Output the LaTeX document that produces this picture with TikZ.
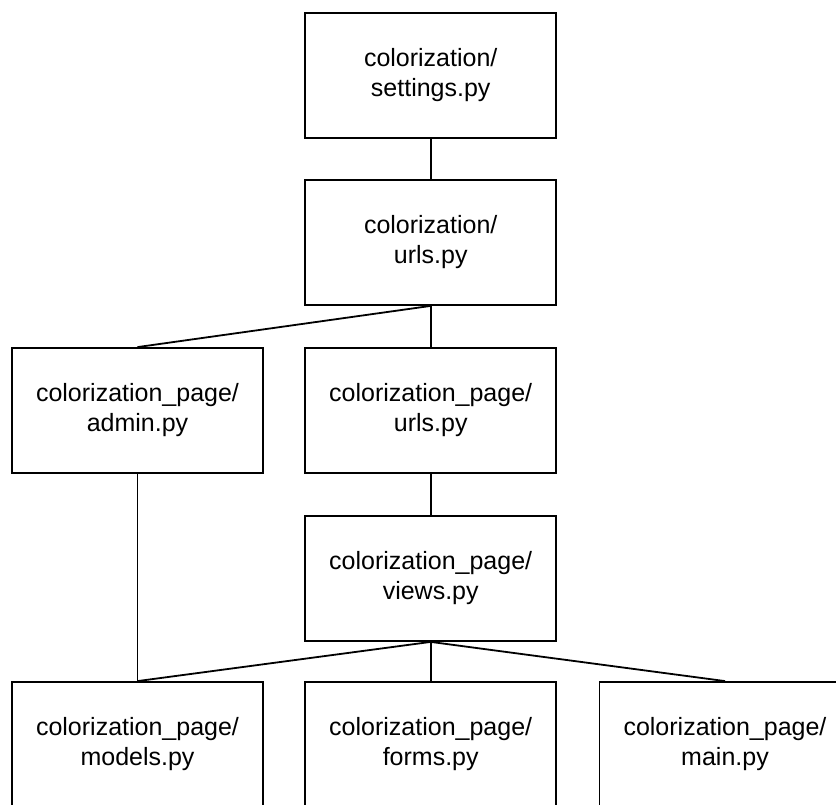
\documentclass[tikz,border=0pt]{standalone}
\usepackage{fontspec}
\setmainfont{Liberation Sans}
\begin{document}
\begin{tikzpicture}[x=1pt,y=-1pt,
  filebox/.style={draw=black,line width=1.8pt,fill=white,minimum width=251pt,minimum height=125pt,
    inner sep=0pt,align=center,font=\fontsize{25}{30}\selectfont},
  link/.style={draw=black,line width=1.8pt}]
\useasboundingbox (0,0) rectangle (836,805);
\clip (0,0) rectangle (836,805);
\fill[white] (0,0) rectangle (836,805);

% project-level modules
\node[filebox] (settings) at (430.7,75.5)  {colorization/\\settings.py};
\node[filebox] (curls)    at (430.7,242.5) {colorization/\\urls.py};

% app modules
\node[filebox] (admin)  at (137.5,410.5) {colorization\_page/\\admin.py};
\node[filebox] (purls)  at (430.7,410.5) {colorization\_page/\\urls.py};
\node[filebox] (views)  at (430.7,578.5) {colorization\_page/\\views.py};
\node[filebox] (models) at (137.5,744.5) {colorization\_page/\\models.py};
\node[filebox] (forms)  at (430.7,744.5) {colorization\_page/\\forms.py};
\node[filebox] (main)   at (725,744.5)   {colorization\_page/\\main.py};

% dependencies
\draw[link] (settings.south) -- (curls.north);
\draw[link] (curls.south) -- (admin.north);
\draw[link] (curls.south) -- (purls.north);
\draw[link] (purls.south) -- (views.north);
\draw[link] (admin.south) -- (models.north);
\draw[link] (views.south) -- (models.north);
\draw[link] (views.south) -- (forms.north);
\draw[link] (views.south) -- (main.north);
\end{tikzpicture}
\end{document}
